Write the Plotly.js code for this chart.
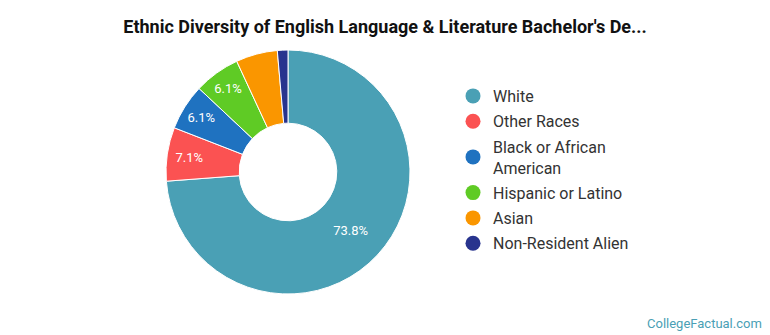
<!DOCTYPE html>
<html>
<head>
<meta charset="utf-8">
<script src="https://cdn.plot.ly/plotly-3.0.1.min.js"></script>
<style>html,body{margin:0;padding:0;background:#fff;}#chart{width:770px;height:335px;}</style>
</head>
<body>
<div id="chart"></div>
<script>
var categories = ["White", "Other Races", "Black or African<br>American", "Hispanic or Latino", "Asian", "Non-Resident Alien"];
var shares = [73.8, 7.1, 6.1, 6.1, 5.5, 1.4];
var colors = ["#4aa0b5", "#fb5252", "#1f72c0", "#5fcb25", "#fa9600", "#28348e"];

var labelsText = shares.map(function (v) { return v >= 6 ? v.toFixed(1) + "%" : ""; });

var W = 770, H = 335, cx = 288, cy = 172, R = 122;

var traces = [{
  type: "pie",
  labels: categories,
  values: shares,
  text: labelsText,
  textinfo: "text",
  textposition: "inside",
  insidetextorientation: "horizontal",
  insidetextfont: {family: "Roboto, sans-serif", size: 13, color: "#ffffff"},
  hole: 0.4,
  sort: false,
  direction: "clockwise",
  rotation: 0,
  marker: {colors: colors, line: {color: "#ffffff", width: 1}},
  showlegend: false,
  hoverinfo: "none",
  domain: {x: [(cx - R) / W, (cx + R) / W], y: [(H - cy - R) / H, (H - cy + R) / H]}
}];

categories.forEach(function (c, i) {
  traces.push({
    type: "scatter",
    mode: "markers",
    x: [-10], y: [-10],
    name: c,
    legendgroup: "g" + i,
    marker: {color: colors[i], size: 15, symbol: "circle"},
    showlegend: true,
    hoverinfo: "none"
  });
});

var layout = {
  width: W, height: H,
  margin: {l: 0, r: 0, t: 0, b: 0},
  paper_bgcolor: "#ffffff",
  plot_bgcolor: "rgba(0,0,0,0)",
  font: {family: "Roboto, sans-serif", color: "#333333"},
  title: {
    text: "<b>Ethnic Diversity of English Language &amp; Literature Bachelor's De...</b>",
    font: {family: "Roboto, sans-serif", size: 18, color: "#111111"},
    x: 0.5, xanchor: "center", y: 1 - 27 / H, yanchor: "middle"
  },
  xaxis: {visible: false, range: [0, 1], fixedrange: true},
  yaxis: {visible: false, range: [0, 1], fixedrange: true},
  showlegend: true,
  legend: {
    x: 453 / W, xanchor: "left",
    y: 1 - 79 / H, yanchor: "top",
    font: {family: "Roboto, sans-serif", size: 16, color: "#333333"},
    bgcolor: "rgba(0,0,0,0)",
    tracegroupgap: 1.5,
    itemclick: false, itemdoubleclick: false
  },
  annotations: [{
    text: "CollegeFactual.com",
    xref: "paper", yref: "paper",
    x: 1 - 6 / W, xanchor: "right",
    y: 2 / H, yanchor: "bottom",
    showarrow: false,
    font: {family: "Roboto, sans-serif", size: 13, color: "#4a9fb5"}
  }]
};

Plotly.newPlot("chart", traces, layout, {displayModeBar: false, staticPlot: true});
</script>
</body>
</html>
